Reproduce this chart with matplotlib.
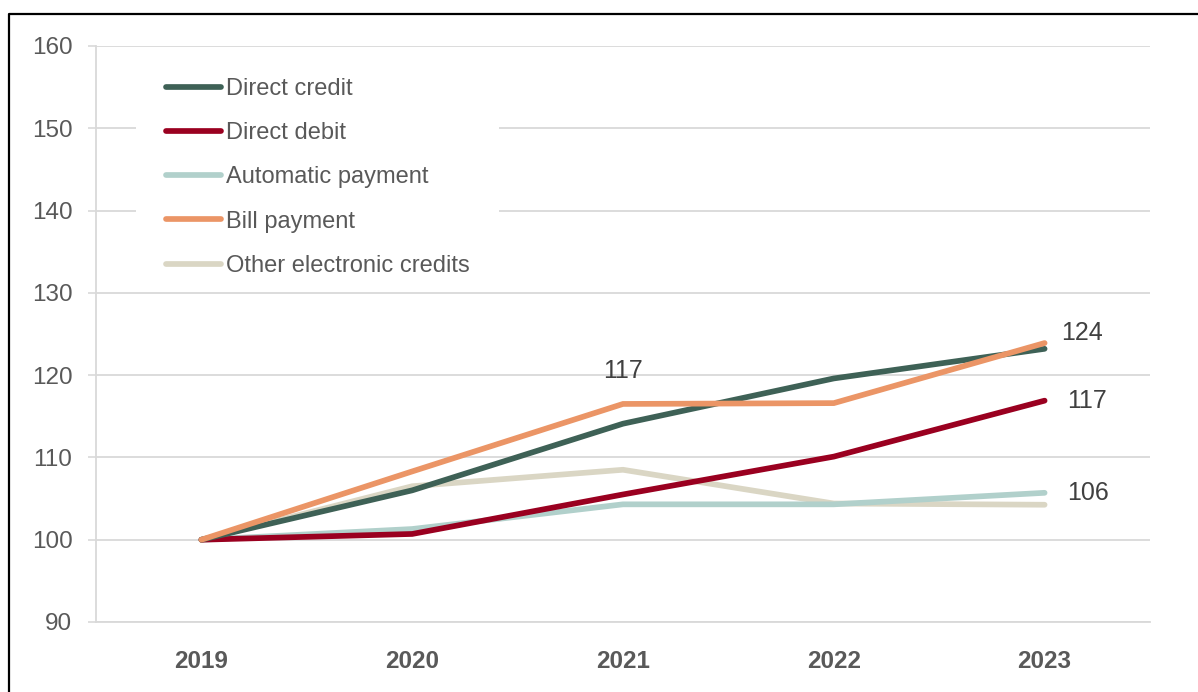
import matplotlib
matplotlib.use("Agg")
import matplotlib.pyplot as plt
from matplotlib.lines import Line2D
from matplotlib.patches import Rectangle

plt.rcParams['font.family'] = ['Liberation Sans', 'DejaVu Sans']

years = ["2019", "2020", "2021", "2022", "2023"]
direct_credit = [100, 106.0, 114.1, 119.6, 123.2]
direct_debit = [100, 100.7, 105.5, 110.1, 116.9]
automatic_payment = [100, 101.3, 104.3, 104.3, 105.7]
bill_payment = [100, 108.3, 116.5, 116.6, 123.9]
other_electronic = [100, 106.5, 108.5, 104.4, 104.25]

series_names = ["Direct credit", "Direct debit", "Automatic payment",
                "Bill payment", "Other electronic credits"]
series_values = [direct_credit, direct_debit, automatic_payment,
                 bill_payment, other_electronic]
colors = ["#3E6156", "#9A0020", "#B1D0CB", "#EB9566", "#DAD6C4"]
yticks = [90, 100, 110, 120, 130, 140, 150, 160]

W, H = 1198, 692
fig = plt.figure(figsize=(W / 100, H / 100), dpi=100)
ax = fig.add_axes([96 / W, 1 - 622 / H, (1150 - 96) / W, (622 - 46) / H])

x = [i + 0.5 for i in range(len(years))]
# draw order: back to front
order = [4, 2, 1, 0, 3]
handles = {}
for i in order:
    ln, = ax.plot(x, series_values[i], color=colors[i], lw=4.1,
                  solid_capstyle='round', solid_joinstyle='miter',
                  label=series_names[i], zorder=3 + order.index(i))
    handles[i] = ln

ax.set_xlim(0, 5)
ax.set_ylim(90, 160)
ax.set_yticks(yticks)
ax.set_xticks(x)
ax.set_xticklabels(years, fontsize=17.5, fontweight='bold', color='#595959')
ax.tick_params(axis='x', length=0, pad=20)
ax.tick_params(axis='y', length=6, width=1.2, color='#D9D9D9', pad=11,
               labelsize=17.5, labelcolor='#595959')
ax.yaxis.grid(True, color='#D9D9D9', lw=1.3, zorder=0)
ax.set_axisbelow(True)
for s in ['top', 'right']:
    ax.spines[s].set_visible(False)
for s in ['left', 'bottom']:
    ax.spines[s].set_color('#D9D9D9')
    ax.spines[s].set_linewidth(1.3)

# data labels
lab_col = '#404040'
fs_lab = 18
ax.annotate("117", (x[2], bill_payment[2]), xytext=(0, 24),
            textcoords='offset points', ha='center', va='center',
            fontsize=fs_lab, color=lab_col)
ax.annotate("124", (x[4], bill_payment[4]), xytext=(12, 7),
            textcoords='offset points', ha='left', va='center',
            fontsize=fs_lab, color=lab_col)
ax.annotate("117", (x[4], direct_debit[4]), xytext=(16, 0),
            textcoords='offset points', ha='left', va='center',
            fontsize=fs_lab, color=lab_col)
ax.annotate("106", (x[4], automatic_payment[4]), xytext=(16, 0),
            textcoords='offset points', ha='left', va='center',
            fontsize=fs_lab, color=lab_col)

# white legend background area (hides gridlines behind the legend)
ax.add_patch(Rectangle((136 / W, 1 - 285 / H), (499 - 136) / W, (285 - 62) / H,
                       transform=fig.transFigure, facecolor='white',
                       edgecolor='none', zorder=1))

leg = ax.legend([handles[i] for i in range(5)], series_names,
                loc='upper left', bbox_to_anchor=(166 / W, 1 - 78 / H),
                bbox_transform=fig.transFigure,
                fontsize=17, labelcolor='#595959', frameon=False,
                handlelength=2.35, handletextpad=0.2, labelspacing=0.94,
                borderpad=0, borderaxespad=0)
leg.set_zorder(2)

# figure frame (left and top edges)
fig.add_artist(Line2D([9 / W, 9 / W, 1], [0, 1 - 14 / H, 1 - 14 / H],
                      transform=fig.transFigure, color='black', lw=1.6))

fig.savefig("out.png", dpi=100)
